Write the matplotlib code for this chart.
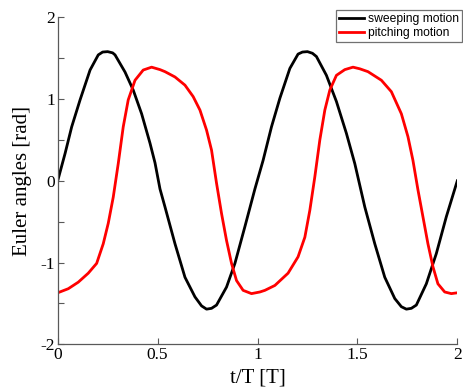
import matplotlib
matplotlib.use("Agg")
import matplotlib.pyplot as plt
from matplotlib.ticker import MultipleLocator

plt.rcParams['axes.unicode_minus'] = False

t_sweep = [0, 0.037, 0.07, 0.112, 0.162, 0.203, 0.225, 0.25, 0.275, 0.287, 0.337, 0.378, 0.42,
           0.462, 0.487, 0.512, 0.537, 0.587, 0.637, 0.687, 0.72, 0.745, 0.77, 0.795, 0.845,
           0.887, 0.937, 0.987, 1.028, 1.07, 1.112, 1.162, 1.203, 1.225, 1.25, 1.275, 1.295,
           1.345, 1.395, 1.445, 1.487, 1.537, 1.587, 1.637, 1.687, 1.72, 1.745, 1.77, 1.795,
           1.845, 1.895, 1.945, 2.0]
sweep = [0, 0.335, 0.66, 0.99, 1.355, 1.54, 1.575, 1.58, 1.565, 1.54, 1.33, 1.11, 0.82,
         0.46, 0.22, -0.1, -0.32, -0.77, -1.18, -1.42, -1.53, -1.57, -1.56, -1.52, -1.3,
         -1.01, -0.56, -0.1, 0.25, 0.66, 1.01, 1.375, 1.55, 1.575, 1.58, 1.56, 1.52,
         1.29, 0.97, 0.58, 0.21, -0.32, -0.77, -1.18, -1.44, -1.54, -1.57, -1.56, -1.52,
         -1.26, -0.89, -0.44, 0.0]

t_pitch = [0, 0.053, 0.103, 0.153, 0.195, 0.228, 0.253, 0.278, 0.303, 0.328, 0.353, 0.387,
           0.428, 0.47, 0.512, 0.537, 0.587, 0.637, 0.678, 0.712, 0.745, 0.77, 0.795, 0.82,
           0.845, 0.87, 0.895, 0.928, 0.97, 1.012, 1.037, 1.087, 1.153, 1.203, 1.237, 1.262,
           1.287, 1.312, 1.337, 1.362, 1.395, 1.437, 1.478, 1.512, 1.553, 1.62, 1.67, 1.72,
           1.753, 1.778, 1.803, 1.828, 1.853, 1.878, 1.903, 1.937, 1.97, 2.0]
pitch = [-1.37, -1.32, -1.24, -1.13, -1.01, -0.77, -0.52, -0.2, 0.21, 0.66, 0.99, 1.23,
         1.355, 1.39, 1.36, 1.335, 1.27, 1.17, 1.03, 0.865, 0.62, 0.375, -0.03, -0.4,
         -0.73, -1.01, -1.22, -1.34, -1.38, -1.36, -1.34, -1.28, -1.13, -0.93, -0.69, -0.36,
         0.05, 0.5, 0.865, 1.11, 1.29, 1.36, 1.39, 1.37, 1.335, 1.23, 1.09, 0.82,
         0.54, 0.25, -0.11, -0.44, -0.77, -1.05, -1.26, -1.36, -1.38, -1.37]

x_ticks = [0, 0.5, 1, 1.5, 2]
x_ticklabels = ["0", "0.5", "1", "1.5", "2"]
y_ticks = [-2, -1, 0, 1, 2]
y_ticklabels = ["-2", "-1", "0", "1", "2"]

W, H = 463, 392
fig = plt.figure(figsize=(W / 100, H / 100), dpi=100)
ax = fig.add_axes([57.7 / W, 1 - 344.3 / H, (457.3 - 57.7) / W, (344.3 - 17.3) / H])

ax.plot(t_sweep, sweep, color='black', lw=2.0, label='sweeping motion')
ax.plot(t_pitch, pitch, color='red', lw=2.0, label='pitching motion')

ax.set_xlim(0, 2)
ax.set_ylim(-2, 2)
ax.set_xticks(x_ticks)
ax.set_xticklabels(x_ticklabels)
ax.set_yticks(y_ticks)
ax.set_yticklabels(y_ticklabels)
ax.yaxis.set_minor_locator(MultipleLocator(0.5))

serif = ['Liberation Serif', 'DejaVu Serif']
for lab in ax.get_xticklabels() + ax.get_yticklabels():
    lab.set_fontfamily(serif)
    lab.set_fontsize(12.5)

ax.tick_params(axis='both', which='major', direction='in', length=4, width=0.8,
               color='0.35', pad=2)
ax.tick_params(axis='both', which='minor', direction='in', length=4, width=0.8,
               color='0.35')
ax.spines['top'].set_visible(False)
ax.spines['right'].set_visible(False)
for s in ['left', 'bottom']:
    ax.spines[s].set_color('0.35')
    ax.spines[s].set_linewidth(0.9)

ax.set_xlabel('t/T [T]', fontfamily=serif, fontsize=15, labelpad=4)
ax.set_ylabel('Euler angles [rad]', fontfamily=serif, fontsize=15, labelpad=6)

leg = ax.legend(loc='upper left', bbox_to_anchor=(336 / W, 1 - 10 / H),
                bbox_transform=fig.transFigure, borderaxespad=0,
                prop={'family': 'Liberation Sans', 'size': 8.7},
                frameon=True, fancybox=False, handlelength=2.1,
                handletextpad=0.3, borderpad=0.25, labelspacing=0.15)
leg.get_frame().set_edgecolor('0.3')
leg.get_frame().set_linewidth(0.9)

fig.savefig('out.png', dpi=100)
